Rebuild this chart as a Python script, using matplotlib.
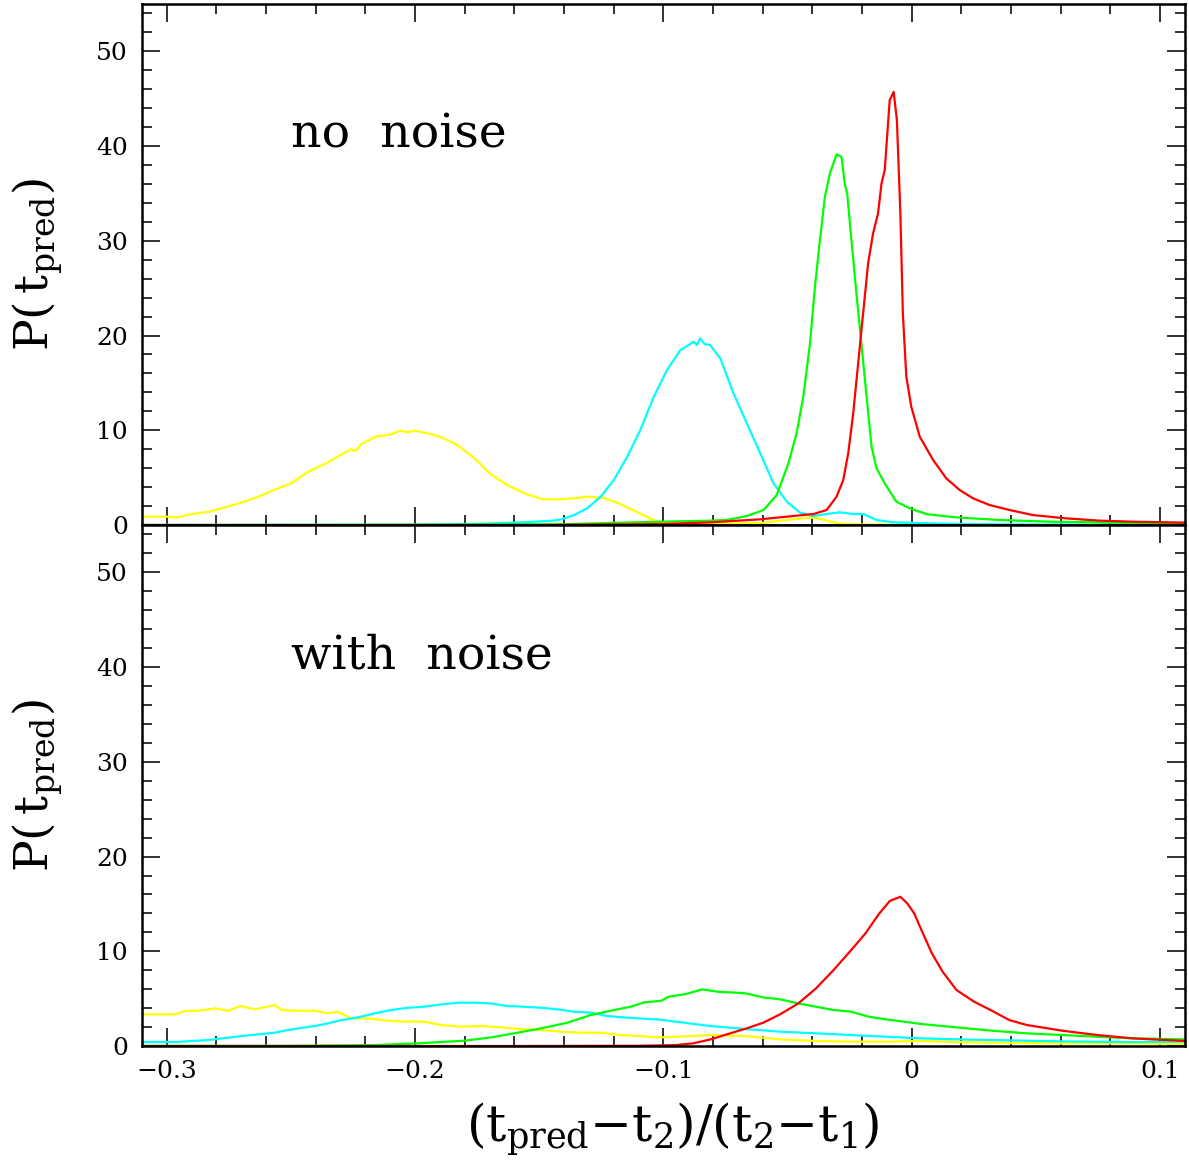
import matplotlib
matplotlib.use('Agg')
import matplotlib.pyplot as plt
from matplotlib.ticker import MultipleLocator, FuncFormatter

plt.rcParams['font.family'] = ['DejaVu Serif']
plt.rcParams['mathtext.fontset'] = 'custom'
plt.rcParams['mathtext.rm'] = 'DejaVu Serif'
plt.rcParams['mathtext.it'] = 'DejaVu Serif'

# ---- no noise (top panel) ----
top_yellow_x = [-0.310, -0.300, -0.296, -0.290, -0.283, -0.277, -0.270, -0.263, -0.257, -0.250,
                -0.243, -0.236, -0.230, -0.226, -0.224, -0.222, -0.216, -0.210, -0.206, -0.203,
                -0.200, -0.196, -0.190, -0.183, -0.176, -0.170, -0.163, -0.156, -0.149, -0.143,
                -0.136, -0.131, -0.124, -0.118, -0.111, -0.1025, -0.097, -0.080, -0.061, -0.048,
                -0.041, -0.036, -0.030, -0.020, 0.000, 0.110]
top_yellow_y = [0.88, 0.88, 0.80, 1.16, 1.40, 1.83, 2.36, 2.99, 3.69, 4.40,
                5.63, 6.50, 7.38, 8.00, 7.80, 8.50, 9.32, 9.55, 9.95, 9.80,
                9.95, 9.74, 9.32, 8.44, 7.03, 5.45, 4.22, 3.34, 2.74, 2.70,
                2.81, 3.00, 2.85, 2.28, 1.41, 0.35, 0.10, 0.12, 0.20, 0.60,
                0.80, 0.60, 0.17, 0.05, 0.02, 0.00]

top_cyan_x = [-0.310, -0.200, -0.170, -0.155, -0.145, -0.141, -0.136, -0.1307, -0.1253, -0.120,
              -0.1146, -0.1093, -0.1039, -0.0986, -0.0932, -0.0878, -0.0865, -0.0852, -0.0835, -0.0812,
              -0.0771, -0.0718, -0.0664, -0.061, -0.0557, -0.0503, -0.045, -0.0396, -0.0343, -0.0289,
              -0.0236, -0.0195, -0.0142, -0.0075, 0.006, 0.019, 0.050, 0.110]
top_cyan_y = [0.00, 0.02, 0.15, 0.30, 0.45, 0.60, 1.05, 1.76, 2.99, 4.75,
              7.21, 10.03, 13.54, 16.35, 18.46, 19.34, 19.00, 19.69, 19.10, 18.99,
              17.58, 13.89, 10.73, 7.56, 4.40, 2.46, 1.30, 0.95, 1.16, 1.34,
              1.16, 1.16, 0.53, 0.28, 0.18, 0.10, 0.05, 0.02]

top_green_x = [-0.310, -0.200, -0.141, -0.101, -0.081, -0.0745, -0.0664, -0.0597, -0.0544, -0.0497,
               -0.0464, -0.0437, -0.041, -0.039, -0.037, -0.035, -0.033, -0.0303, -0.0283, -0.027,
               -0.026, -0.0243, -0.0223, -0.0203, -0.0182, -0.0162, -0.0142, -0.0109, -0.0062, -0.0008,
               0.0059, 0.0126, 0.0193, 0.0353, 0.0554, 0.082, 0.110]
top_green_y = [0.00, 0.03, 0.08, 0.35, 0.46, 0.53, 0.95, 1.58, 3.16, 6.50,
               9.67, 13.54, 19.16, 25.14, 30.06, 34.63, 37.10, 39.13, 38.85, 36.04,
               34.98, 30.06, 24.43, 19.16, 13.54, 8.26, 5.98, 4.40, 2.46, 1.76,
               1.15, 0.95, 0.78, 0.53, 0.35, 0.25, 0.18]

top_red_x = [-0.310, -0.150, -0.101, -0.081, -0.061, -0.0477, -0.0396, -0.0343, -0.0303, -0.0276,
             -0.0256, -0.0236, -0.0216, -0.0196, -0.0176, -0.0156, -0.0136, -0.0122, -0.0109, -0.0089,
             -0.0073, -0.0060, -0.0046, -0.0036, -0.0022, -0.0002, 0.0032, 0.0086, 0.0139, 0.0193,
             0.0247, 0.0313, 0.0394, 0.0487, 0.0621, 0.0755, 0.0889, 0.110]
top_red_y = [0.00, 0.00, 0.10, 0.28, 0.60, 0.95, 1.16, 1.58, 2.99, 4.75,
             7.56, 11.78, 17.05, 22.33, 27.60, 30.77, 32.88, 36.04, 37.45, 44.84,
             45.72, 42.73, 32.88, 22.33, 15.65, 12.48, 9.32, 6.86, 4.92, 3.69,
             2.81, 2.11, 1.58, 1.05, 0.70, 0.46, 0.35, 0.25]

# ---- with noise (bottom panel) ----
bot_yellow_x = [-0.310, -0.2967, -0.2926, -0.2873, -0.2806, -0.2752, -0.2705, -0.2645, -0.2565, -0.2538,
                -0.2485, -0.2404, -0.2351, -0.2311, -0.2257, -0.219, -0.211, -0.203, -0.1963, -0.1896,
                -0.1816, -0.1736, -0.1655, -0.1562, -0.1494, -0.1414, -0.1334, -0.1253, -0.1173, -0.1092,
                -0.1019, -0.0951, -0.081, -0.0669, -0.0528, -0.0386, -0.0244, -0.0103, 0.0039, 0.018,
                0.0322, 0.0605, 0.0888, 0.110]
bot_yellow_y = [3.34, 3.34, 3.69, 3.73, 3.97, 3.73, 4.22, 3.87, 4.32, 3.80,
                3.73, 3.73, 3.45, 3.62, 2.92, 2.92, 2.67, 2.57, 2.57, 2.22,
                2.04, 2.11, 1.97, 1.76, 1.69, 1.51, 1.41, 1.41, 1.16, 1.05,
                0.91, 0.98, 1.16, 1.05, 0.70, 0.53, 0.46, 0.46, 0.53, 0.42,
                0.35, 0.28, 0.28, 0.21]

bot_cyan_x = [-0.310, -0.2967, -0.2833, -0.270, -0.2565, -0.2498, -0.2404, -0.2351, -0.2297, -0.223,
              -0.2163, -0.2096, -0.2029, -0.1963, -0.1896, -0.1829, -0.1762, -0.1695, -0.1628, -0.1562,
              -0.1494, -0.1427, -0.136, -0.1293, -0.1226, -0.1159, -0.1092, -0.1019, -0.0951, -0.081,
              -0.0669, -0.0528, -0.0386, -0.0244, -0.0103, 0.0039, 0.018, 0.0322, 0.0463, 0.0605,
              0.0888, 0.110]
bot_cyan_y = [0.42, 0.42, 0.63, 1.05, 1.41, 1.76, 2.11, 2.39, 2.74, 3.02,
              3.45, 3.80, 4.04, 4.15, 4.39, 4.57, 4.57, 4.50, 4.22, 4.15,
              4.04, 3.87, 3.62, 3.52, 3.16, 3.02, 2.90, 2.80, 2.57, 2.11,
              1.79, 1.51, 1.34, 1.16, 0.98, 0.81, 0.70, 0.63, 0.56, 0.49,
              0.42, 0.46]

bot_green_x = [-0.310, -0.250, -0.2163, -0.199, -0.1802, -0.1695, -0.1601, -0.1494, -0.1387, -0.1293,
               -0.1199, -0.1132, -0.1079, -0.1008, -0.098, -0.0909, -0.0845, -0.0781, -0.071, -0.0669,
               -0.0598, -0.0528, -0.0457, -0.0386, -0.0315, -0.0244, -0.0173, -0.0103, -0.0032, 0.0039,
               0.018, 0.0322, 0.0463, 0.0605, 0.0746, 0.0888, 0.110]
bot_green_y = [0.02, 0.03, 0.10, 0.28, 0.56, 0.91, 1.34, 1.86, 2.46, 3.27,
               3.80, 4.15, 4.60, 4.78, 5.20, 5.49, 5.98, 5.73, 5.63, 5.56,
               5.13, 4.92, 4.50, 4.15, 3.80, 3.62, 3.09, 2.81, 2.57, 2.32,
               1.97, 1.62, 1.34, 1.16, 0.98, 0.81, 0.70]

bot_red_x = [-0.310, -0.160, -0.1092, -0.0951, -0.0881, -0.081, -0.074, -0.0669, -0.0598, -0.0528,
             -0.0457, -0.0386, -0.0315, -0.0244, -0.0187, -0.0131, -0.0088, -0.0046, -0.0018, 0.001,
             0.0039, 0.0081, 0.0124, 0.018, 0.0251, 0.0322, 0.0393, 0.0463, 0.0605, 0.0746,
             0.0888, 0.110]
bot_red_y = [0.00, 0.00, 0.03, 0.10, 0.28, 0.70, 1.27, 1.83, 2.46, 3.38,
             4.50, 6.08, 8.02, 10.13, 11.88, 13.99, 15.33, 15.75, 15.05, 13.99,
             12.23, 9.78, 7.85, 5.91, 4.68, 3.73, 2.74, 2.22, 1.62, 1.16,
             0.81, 0.53]

panel_labels = ['no  noise', 'with  noise']
xticks_major = 0.1
xticks_minor = 0.02


def fmt_x(v, pos):
    if abs(v) < 1e-9:
        return '0'
    return ('%.1f' % v).replace('-', '\u2212')


fig = plt.figure(figsize=(11.89, 11.69), dpi=100)
ax_top = fig.add_axes([0.1194, 0.5509, 0.8772, 0.4457])
ax_bot = fig.add_axes([0.1194, 0.1052, 0.8772, 0.4457])

series = [
    (ax_top, [(top_yellow_x, top_yellow_y, '#ffff00'), (top_cyan_x, top_cyan_y, '#00ffff'),
              (top_green_x, top_green_y, '#00ff00'), (top_red_x, top_red_y, '#ff0000')]),
    (ax_bot, [(bot_yellow_x, bot_yellow_y, '#ffff00'), (bot_cyan_x, bot_cyan_y, '#00ffff'),
              (bot_green_x, bot_green_y, '#00ff00'), (bot_red_x, bot_red_y, '#ff0000')]),
]

for i, (ax, curves) in enumerate(series):
    for xs, ys, c in curves:
        ax.plot(xs, ys, color=c, lw=1.6)
    ax.set_xlim(-0.31, 0.11)
    ax.set_ylim(0, 55)
    ax.xaxis.set_major_locator(MultipleLocator(xticks_major))
    ax.xaxis.set_minor_locator(MultipleLocator(xticks_minor))
    ax.yaxis.set_major_locator(MultipleLocator(10))
    ax.yaxis.set_minor_locator(MultipleLocator(2))
    ax.tick_params(which='both', direction='in', top=True, right=True, width=1.3, color='#222222')
    ax.tick_params(which='major', length=13, labelsize=18, pad=10)
    ax.tick_params(which='minor', length=7)
    for s in ax.spines.values():
        s.set_linewidth(1.8)
    ax.set_ylabel(r'P($\,\mathrm{t_{pred}}$)', fontsize=34)
    ax.yaxis.set_label_coords(-0.074, 0.5)
    ax.text(-0.25, 39.8, panel_labels[i], fontsize=34, va='baseline', ha='left')

ax_top.tick_params(labelbottom=False)
ax_bot.xaxis.set_major_formatter(FuncFormatter(fmt_x))
ax_bot.set_xlabel(r'($\mathrm{t_{pred}}$$-$$\mathrm{t_2}$)/($\mathrm{t_2}$$-$$\mathrm{t_1}$)',
                  fontsize=36)
ax_bot.xaxis.set_label_coords(0.509, -0.106)

fig.savefig('out.png', dpi=100)
